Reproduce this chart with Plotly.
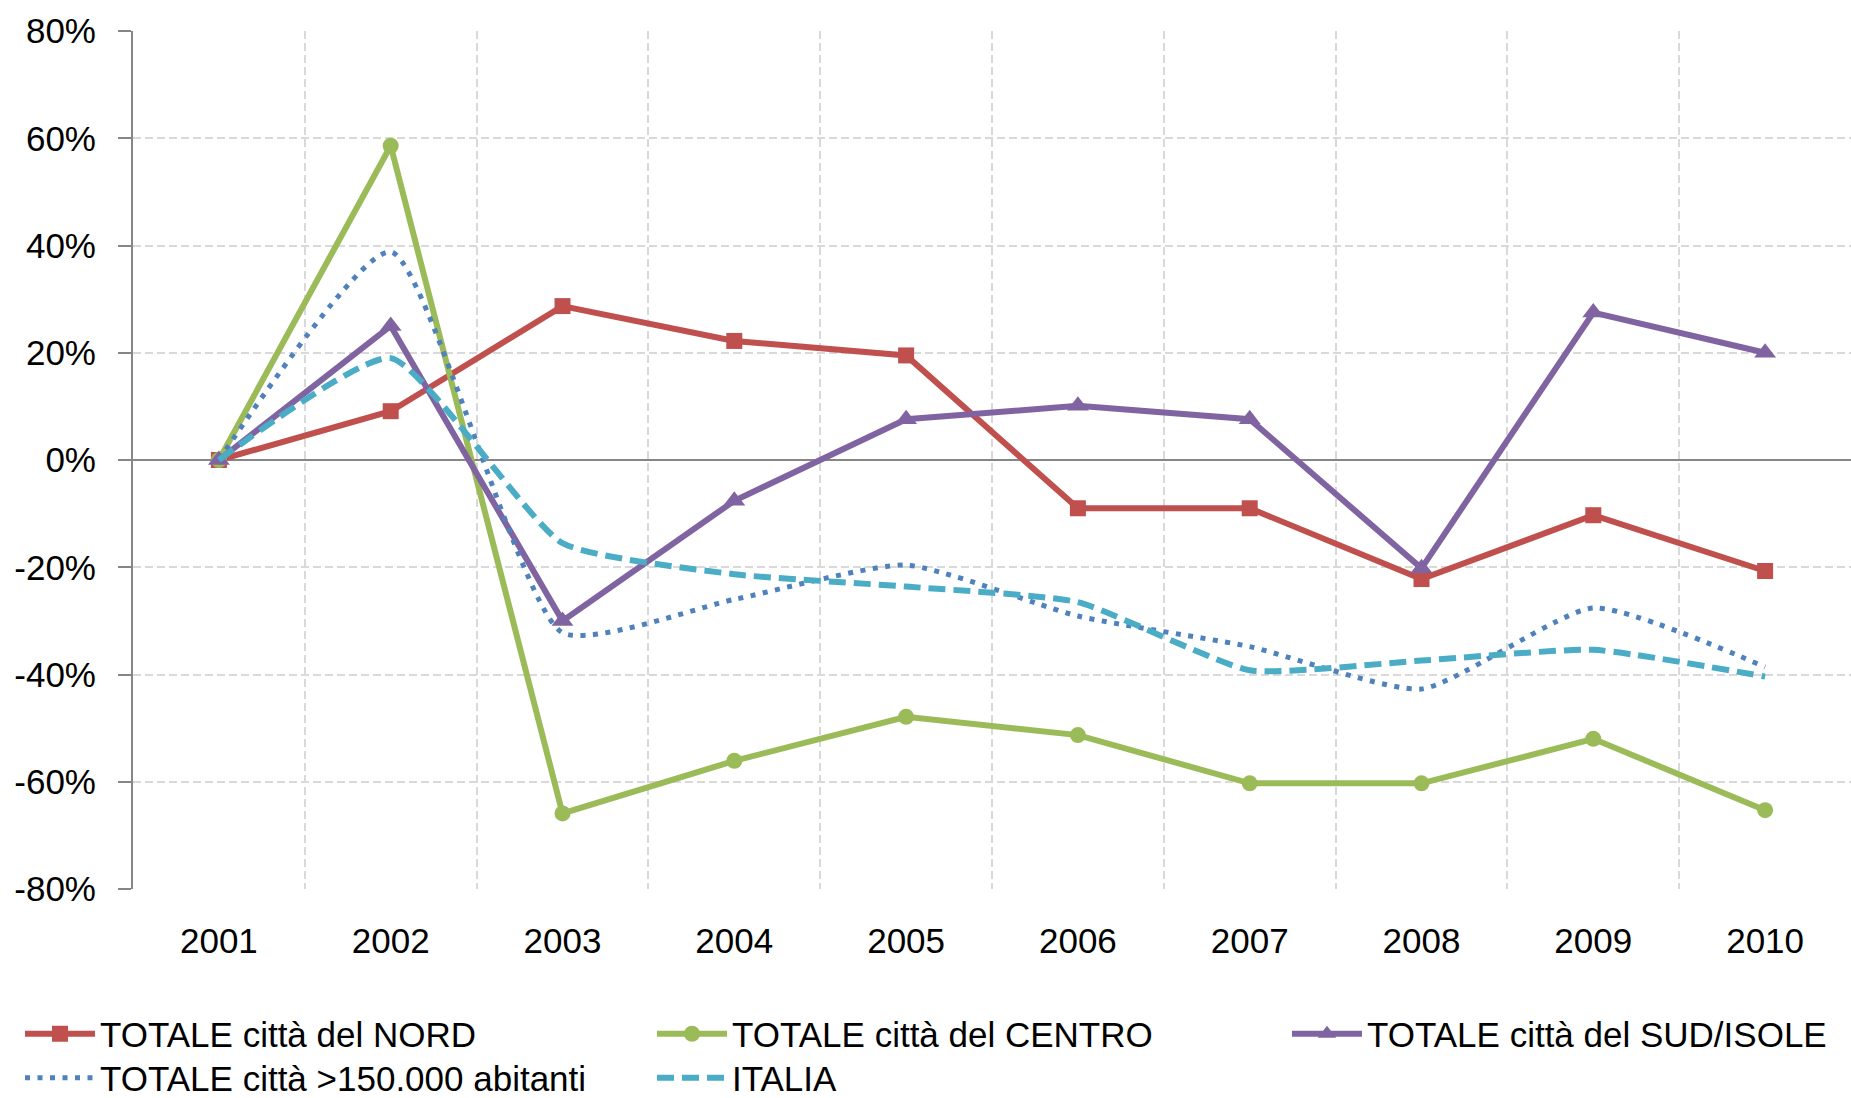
import plotly.graph_objects as go

years = ['2001', '2002', '2003', '2004', '2005', '2006', '2007', '2008', '2009', '2010']
nord = [0, 9.1, 28.7, 22.2, 19.5, -9.0, -9.0, -22.2, -10.3, -20.7]
centro = [0, 58.6, -65.9, -56.1, -47.9, -51.3, -60.3, -60.3, -52.0, -65.3]
sud = [0, 25.0, -30.0, -7.6, 7.6, 10.1, 7.6, -20.2, 27.5, 20.0]
oltre150 = [0, 38.8, -32.2, -26.0, -19.6, -29.1, -34.8, -42.7, -27.6, -38.6]
italia = [0, 19.0, -15.5, -21.3, -23.6, -26.5, -39.2, -37.4, -35.4, -40.4]

names = ['TOTALE città del NORD', 'TOTALE città del CENTRO', 'TOTALE città del SUD/ISOLE',
         'TOTALE città >150.000 abitanti', 'ITALIA']
y_ticks = [-80, -60, -40, -20, 0, 20, 40, 60, 80]
y_ticktext = [f'{v}%' for v in y_ticks]

FONT = 'Liberation Sans Narrow, Arial Narrow, Liberation Sans, Arial, sans-serif'
FS = 35

fig = go.Figure()
fig.add_trace(go.Scatter(x=years, y=nord, name=names[0], mode='lines+markers',
                         line=dict(color='#C0504D', width=6),
                         marker=dict(symbol='square', size=16, color='#C0504D'),
                         legend='legend'))
fig.add_trace(go.Scatter(x=years, y=centro, name=names[1], mode='lines+markers',
                         line=dict(color='#9BBB59', width=6),
                         marker=dict(symbol='circle', size=16, color='#9BBB59'),
                         legend='legend2'))
fig.add_trace(go.Scatter(x=years, y=sud, name=names[2], mode='lines+markers',
                         line=dict(color='#8064A2', width=6),
                         marker=dict(symbol='triangle-up', size=19, color='#8064A2'),
                         legend='legend3'))
fig.add_trace(go.Scatter(x=years, y=oltre150, name=names[3], mode='lines',
                         line=dict(color='#4F81BD', width=5, dash='5px,7.5px',
                                   shape='spline', smoothing=0.55),
                         legend='legend4'))
fig.add_trace(go.Scatter(x=years, y=italia, name=names[4], mode='lines',
                         line=dict(color='#4BACC6', width=6, dash='17px,8px',
                                   shape='spline', smoothing=0.5),
                         legend='legend5'))

L, T, B = 133, 31, 209
W, H = 1851, 1098
pw = W - L
ph = H - T - B


def px_x(px):
    return (px - L) / pw


def px_y(py):
    return (H - B - py) / ph


def leg(xpx, ypx):
    return dict(x=px_x(xpx), y=px_y(ypx), xanchor='left', yanchor='middle',
                orientation='v', bgcolor='rgba(0,0,0,0)', borderwidth=0,
                itemwidth=70, font=dict(family=FONT, size=FS, color='black'))


fig.update_layout(
    width=W, height=H,
    margin=dict(l=L, r=0, t=T, b=B, autoexpand=False),
    paper_bgcolor='white', plot_bgcolor='white',
    font=dict(family=FONT, size=FS, color='black'),
    showlegend=True,
    legend=leg(20, 1034),
    legend2=leg(652, 1034),
    legend3=leg(1287, 1034),
    legend4=leg(20, 1078),
    legend5=leg(652, 1078),
    xaxis=dict(type='category', range=[-0.5, 9.5], tickson='boundaries',
               showgrid=True, gridcolor='#D9D9D9', gridwidth=2, griddash='8px,4px',
               showline=False, ticks='', zeroline=False,
               tickfont=dict(family=FONT, size=FS, color='black'),
               ticklabelstandoff=28),
    yaxis=dict(range=[-80, 80], tickmode='array', tickvals=y_ticks, ticktext=y_ticktext,
               showgrid=True, gridcolor='#D9D9D9', gridwidth=2, griddash='8px,4px',
               zeroline=True, zerolinecolor='#868686', zerolinewidth=2,
               showline=True, linecolor='#868686', linewidth=2,
               ticks='outside', ticklen=13, tickwidth=2, tickcolor='#868686',
               tickfont=dict(family=FONT, size=FS, color='black'),
               ticklabelstandoff=15),
)

fig.write_html('out.html', config={'displayModeBar': False},
               post_script="document.body.style.margin='0';document.body.style.overflow='hidden';")
